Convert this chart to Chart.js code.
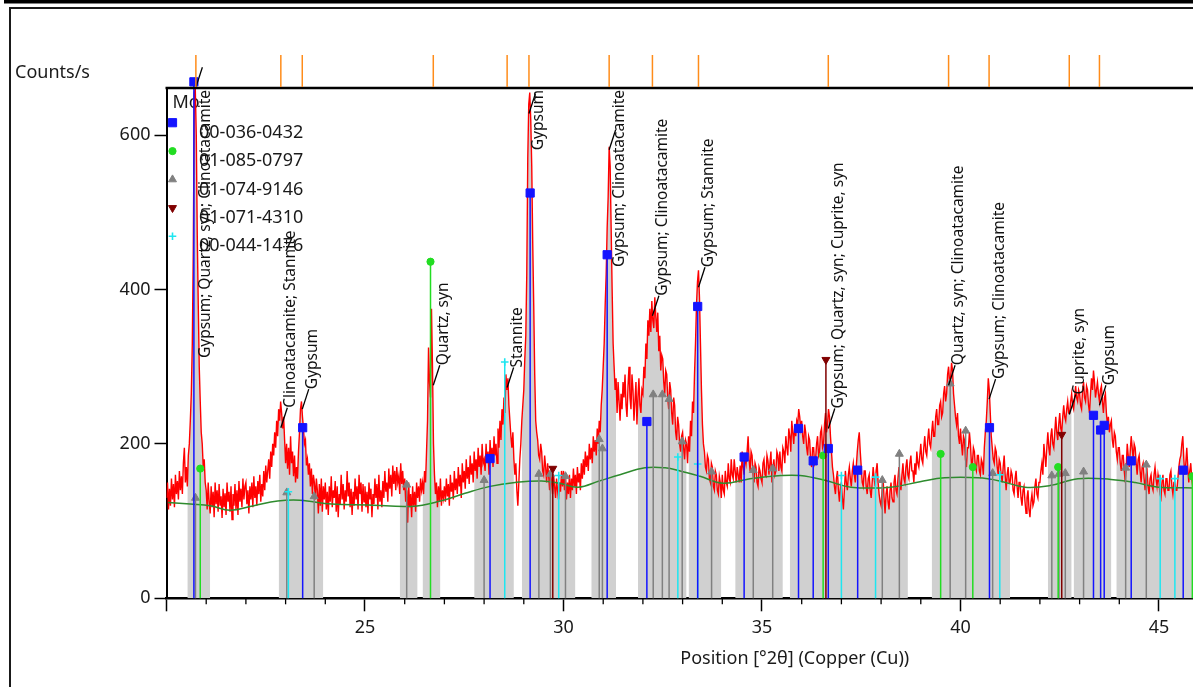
<!DOCTYPE html>
<html lang="en">
<head>
  <meta charset="UTF-8">
  <title>XRD pattern</title>
  <script src="https://cdn.jsdelivr.net/npm/chart.js"></script>
  <style>
    html, body { margin: 0; padding: 0; background: #fff; overflow: hidden; }
    #wrap { width: 1193px; height: 687px; overflow: hidden; }
    canvas { display: block; }
  </style>
</head>
<body>
  <div id="wrap"><canvas id="xrd" width="1440" height="687"></canvas></div>

  <script>
    // measured scan: start angle, step (deg 2theta) and counts/s, one row per degree
    const scanStart = 20.0;
    const scanStep = 0.025;
    const counts = [
      // 20
      130,150,115,142,120,155,128,148,118,160,135,152,128,165,140,158,135,175,195,150,
      170,145,185,200,230,265,330,450,655,660,600,470,380,300,255,215,200,170,180,150,
      // 21
      140,115,150,125,110,145,118,138,105,150,122,140,112,148,120,132,104,142,118,136,
      108,150,125,138,112,145,102,135,120,148,115,140,108,152,125,142,118,155,128,145,
      // 22
      150,122,140,110,145,128,150,118,158,130,145,120,152,135,160,125,148,132,165,140,
      172,150,165,180,155,190,170,200,185,215,195,230,210,245,230,255,240,220,235,205,
      // 23
      175,200,168,195,160,210,175,190,158,185,150,170,155,190,215,245,255,235,220,200,
      205,172,180,160,175,145,168,135,160,150,128,155,140,110,148,120,155,112,145,128,
      // 24
      150,115,138,108,145,125,158,118,140,130,152,112,145,105,135,122,160,128,148,115,
      140,125,165,132,150,118,142,108,138,120,155,128,145,115,160,135,150,112,148,125,
      // 25
      145,118,138,110,150,128,142,105,135,122,155,130,148,115,160,125,140,118,152,130,
      165,138,150,125,168,142,160,132,172,148,165,140,170,150,158,135,175,148,165,140,
      // 26
      155,125,140,98,150,118,135,105,145,120,138,112,150,130,145,125,155,140,150,135,
      165,150,190,230,325,280,260,375,300,200,160,135,150,118,145,125,155,120,140,130,
      // 27
      145,125,155,132,148,120,160,138,150,128,165,140,155,135,170,145,160,130,175,150,
      165,142,180,155,170,148,185,160,175,150,190,165,180,155,195,170,185,160,200,175,
      // 28
      180,165,200,175,190,160,205,180,195,170,210,185,200,175,220,195,230,205,245,225,
      260,240,290,270,285,250,230,210,195,215,180,160,175,140,120,150,180,200,230,250,
      // 29
      270,310,340,420,570,640,655,620,560,460,380,290,230,215,205,185,180,200,190,165,
      160,185,170,150,175,160,140,165,150,135,160,145,130,155,140,128,150,138,165,145,
      // 30
      165,140,158,128,150,135,160,130,155,140,168,145,160,135,170,150,162,140,175,155,
      180,160,190,170,185,165,200,180,195,175,210,190,205,185,220,200,230,215,250,270,
      // 31
      300,330,380,420,480,520,585,560,480,400,330,300,270,285,240,280,255,230,265,245,
      280,260,290,250,235,275,300,260,245,290,270,230,255,280,225,260,285,250,240,270,
      // 32
      265,300,285,330,310,360,340,375,345,385,360,350,390,365,345,370,320,340,295,315,
      310,280,265,295,290,260,245,280,270,240,225,260,250,215,205,235,225,200,190,210,
      // 33
      215,195,180,205,200,175,210,190,230,210,255,240,290,330,380,410,425,390,330,270,
      225,200,190,170,165,185,180,155,150,175,170,145,140,165,160,140,135,158,150,130,
      // 34
      160,140,135,165,150,145,175,155,150,180,160,155,180,165,150,170,160,150,172,150,
      190,170,160,185,175,190,210,180,165,190,185,160,150,175,170,150,145,170,165,155,
      // 35
      150,175,180,160,158,185,178,160,175,190,150,170,180,160,165,190,185,165,190,170,
      165,195,190,175,210,195,185,220,210,190,230,215,200,225,210,230,225,245,235,220,
      // 36
      230,210,200,225,215,195,185,210,205,180,170,195,195,175,180,200,210,185,190,215,
      220,195,200,225,240,215,225,245,235,210,190,170,160,145,135,155,165,140,125,145,
      // 37
      150,130,115,140,165,150,140,160,170,155,145,165,175,160,150,170,190,205,215,190,
      170,150,145,165,165,145,135,155,160,140,130,150,170,155,145,165,175,150,135,125,
      // 38
      120,140,155,130,110,135,145,125,115,140,150,130,125,150,160,140,135,155,170,150,
      140,160,175,155,150,170,180,160,155,175,185,165,165,150,175,160,190,175,170,185,
      // 39
      200,180,175,195,210,190,185,205,220,200,195,215,230,210,210,235,245,225,225,250,
      255,235,240,265,275,255,265,290,300,280,285,305,295,265,250,235,225,240,210,200,
      // 40
      220,200,185,210,205,180,170,195,195,215,200,175,175,195,190,170,165,185,185,165,
      160,180,175,160,195,215,230,255,285,270,240,210,195,180,175,195,190,170,160,180,
      // 41
      175,160,150,170,185,160,140,160,170,150,150,165,160,140,135,155,165,145,130,150,
      150,130,120,140,145,125,110,130,140,115,105,125,135,120,125,145,155,135,130,150,
      // 42
      150,165,175,160,200,185,170,195,215,195,185,210,220,200,195,215,235,215,205,225,
      240,220,215,235,250,235,230,245,255,240,240,255,265,250,245,260,275,260,255,270,
      // 43
      265,250,245,270,280,260,255,275,270,250,240,265,285,270,295,280,260,270,280,265,
      255,270,275,255,240,260,265,240,225,235,215,225,230,205,195,215,210,190,180,195,
      // 44
      195,175,165,185,185,165,150,170,200,185,170,190,210,195,180,200,195,175,160,180,
      185,165,150,170,175,155,140,160,165,145,135,155,160,145,140,160,170,155,145,160,
      // 45
      150,135,130,150,160,140,135,155,155,140,140,160,165,145,135,150,150,140,140,155,
      170,180,185,200,210,180,160,175,195,170,150,165,175,155,145
    ];

    // fitted background
    const bgPos = [20.04, 20.6, 21.1, 21.6, 22.2, 22.8, 23.36, 24.16, 25.1, 26.18, 26.9, 27.52, 28.15, 28.78,
                   29.45, 29.9, 30.37, 30.9, 31.42, 32.05, 32.56, 32.94, 33.44, 34.02, 34.7, 35.48, 35.96,
                   36.58, 37.24, 38.25, 38.98, 39.6, 40.44, 40.99, 41.62, 42.25, 42.96, 43.79, 44.4, 44.98, 45.86];
    const bgCounts = [124, 122, 120, 114, 120, 126, 127, 122, 121, 119, 126, 136, 145, 150,
                      152, 149, 144, 152, 160, 169, 169, 165, 158, 149, 155, 159, 159,
                      153, 144, 144, 151, 156, 156, 152, 144, 146, 155, 154, 150, 144, 143];

    // peak ranges shown shaded
    const bandStart = [20.51, 22.82, 25.86, 26.43, 27.75, 28.93, 30.69, 31.86, 33.14, 34.32, 35.68, 39.27, 42.20, 42.83, 43.92];
    const bandEnd   = [21.10, 23.95, 26.34, 26.91, 28.77, 30.31, 31.34, 33.11, 33.99, 35.53, 38.69, 41.25, 42.80, 43.80, 46.00];

    // reference patterns (stick positions and heights)
    const gypsumPos = [20.69, 23.43, 28.15, 29.16, 31.10, 32.10, 33.38, 34.55, 35.92, 36.29, 36.67, 37.41, 40.73, 43.35, 43.53, 43.62, 44.30, 45.61];
    const gypsumCounts = [669, 221, 181, 525, 445, 229, 378, 183, 220, 178, 194, 166, 221, 237, 218, 224, 178, 166];
    const quartzPos = [20.85, 26.65, 36.54, 39.50, 40.31, 42.46, 45.84];
    const quartzCounts = [168, 436, 185, 187, 170, 170, 158];
    const clinoPos = [20.73, 23.03, 23.72, 26.05, 28.00, 29.38, 29.67, 30.05, 30.90, 30.98, 32.26, 32.49, 32.66, 32.99,
                      33.73, 34.78, 35.27, 38.03, 38.46, 39.74, 40.13, 40.81, 42.30, 42.48, 42.64, 43.10, 44.16, 44.68];
    const clinoCounts = [130, 137, 132, 147, 153, 161, 161, 158, 206, 194, 264, 264, 258, 203,
                         164, 166, 168, 153, 187, 278, 217, 162, 159, 161, 162, 164, 169, 173];
    const cupritePos = [29.73, 36.61, 42.55];
    const cupriteCounts = [168, 309, 212];
    const stannitePos = [23.07, 28.52, 29.88, 32.88, 33.38, 37.00, 37.86, 40.99, 45.03, 45.40];
    const stanniteCounts = [138, 306, 159, 183, 174, 159, 157, 160, 155, 155];

    // identified peaks
    const peakNames = [
      'Gypsum; Quartz, syn; Clinoatacamite', 'Clinoatacamite; Stannite', 'Gypsum', 'Quartz, syn', 'Stannite',
      'Gypsum', 'Gypsum; Clinoatacamite', 'Gypsum; Clinoatacamite', 'Gypsum; Stannite',
      'Gypsum; Quartz, syn; Cuprite, syn', 'Quartz, syn; Clinoatacamite', 'Gypsum; Clinoatacamite',
      'Cuprite, syn', 'Gypsum'
    ];
    const peakPos = [20.74, 22.88, 23.42, 26.72, 28.58, 29.13, 31.15, 32.24, 33.40, 36.67, 39.70, 40.72, 42.74, 43.50];
    const peakCounts = [662, 221, 245, 276, 273, 628, 581, 366, 403, 220, 276, 258, 238, 250];

    const FONT = '"Noto Sans", "Open Sans", sans-serif';
    Chart.defaults.font.family = FONT;

    const twoTheta = counts.map((_, i) => +(scanStart + i * scanStep).toFixed(3));
    const inBand = t => bandStart.some((s, k) => t >= s && t <= bandEnd[k]);

    // legend entries: code, colour, marker
    const patterns = [
      { code: '00-036-0432', color: '#1414ff', style: 'rect', radius: 5.8, rot: 0 },
      { code: '01-085-0797', color: '#22dd22', style: 'circle', radius: 3.6, rot: 0 },
      { code: '01-074-9146', color: '#808080', style: 'triangle', radius: 4.6, rot: 0 },
      { code: '01-071-4310', color: '#800000', style: 'triangle', radius: 4.6, rot: 180 },
      { code: '00-044-1476', color: '#1ee6f0', style: 'cross', radius: 3.8, rot: 0 }
    ];

    function stickSet(p, pos, vals, order) {
      const data = [];
      pos.forEach((t, i) => data.push({ x: t, y: 0 }, { x: t, y: vals[i] }, { x: t, y: null }));
      return {
        label: p.code,
        data: data,
        borderColor: p.color,
        backgroundColor: p.color,
        borderWidth: 1.5,
        pointStyle: p.style,
        pointRotation: p.rot,
        pointRadius: c => (c.index % 3 === 1 ? p.radius : 0),
        pointBorderWidth: p.style === 'cross' ? 1.6 : 1,
        clip: false,
        order: order
      };
    }

    // frame, y title, legend, peak labels and reference ticks
    const framePlugin = {
      id: 'frame',
      beforeDraw(chart) {
        const { ctx, width, height } = chart;
        ctx.save();
        ctx.fillStyle = '#fff';
        ctx.fillRect(0, 0, width, height);
        ctx.fillStyle = '#000';
        ctx.fillRect(4, 0, width, 3.5);
        ctx.strokeStyle = '#1a1a1a';
        ctx.lineWidth = 2;
        ctx.beginPath();
        ctx.moveTo(10, height + 5);
        ctx.lineTo(10, 8);
        ctx.lineTo(width + 5, 8);
        ctx.stroke();
        ctx.fillStyle = '#1a1a1a';
        ctx.font = '18px ' + FONT;
        ctx.textBaseline = 'middle';
        ctx.fillText('Counts/s', 15, 73);
        ctx.restore();
      },
      beforeDatasetsDraw(chart) {
        // legend inside the plot, drawn under the data
        const { ctx, chartArea } = chart;
        const lx = chartArea.left + 6;
        ctx.save();
        ctx.fillStyle = '#1a1a1a';
        ctx.font = '18px ' + FONT;
        ctx.textBaseline = 'middle';
        ctx.fillText('Mo', lx, 103);
        patterns.forEach((p, i) => {
          const my = 122.7 + i * 28.4;
          ctx.fillStyle = p.color;
          ctx.strokeStyle = p.color;
          ctx.lineWidth = p.style === 'cross' ? 1.6 : 1;
          if (Chart.helpers && Chart.helpers.drawPoint) {
            Chart.helpers.drawPoint(ctx, { pointStyle: p.style, rotation: p.rot, radius: p.radius, borderWidth: ctx.lineWidth }, lx, my);
          } else {
            ctx.fillRect(lx - 4, my - 4, 8, 8);
          }
          ctx.fillStyle = '#1a1a1a';
          ctx.fillText(p.code, 199, my + 10);
        });
        ctx.restore();
      },
      afterDatasetsDraw(chart) {
        const { ctx, chartArea, scales: { x, y } } = chart;
        ctx.save();
        // peak labels with leader lines
        ctx.font = '15.5px ' + FONT;
        peakNames.forEach((name, i) => {
          const px = x.getPixelForValue(peakPos[i]);
          const py = y.getPixelForValue(peakCounts[i]);
          const ex = px + 6.5, ey = py - 20;
          ctx.strokeStyle = '#000';
          ctx.lineWidth = 1.3;
          ctx.beginPath();
          ctx.moveTo(px, py);
          ctx.lineTo(ex, ey);
          ctx.stroke();
          const w = ctx.measureText(name).width;
          let start = ey;
          if (start - w < chartArea.top + 2) start = chartArea.top + 2 + w;
          ctx.save();
          ctx.translate(ex + 3.5, start);
          ctx.rotate(-Math.PI / 2);
          ctx.fillStyle = '#111';
          ctx.textAlign = 'left';
          ctx.textBaseline = 'middle';
          ctx.fillText(name, 0, 0);
          ctx.restore();
        });
        // top border of the plot
        ctx.strokeStyle = '#000';
        ctx.lineWidth = 2.5;
        ctx.beginPath();
        ctx.moveTo(chartArea.left - 1, chartArea.top);
        ctx.lineTo(chartArea.right, chartArea.top);
        ctx.stroke();
        ctx.restore();
      },
      afterDraw(chart) {
        const { ctx, chartArea, scales: { x } } = chart;
        ctx.save();
        // reference peak ticks above the plot
        ctx.strokeStyle = '#ff8c1a';
        ctx.lineWidth = 1.5;
        peakPos.forEach(t => {
          const px = x.getPixelForValue(t);
          ctx.beginPath();
          ctx.moveTo(px, 55);
          ctx.lineTo(px, chartArea.top - 1);
          ctx.stroke();
        });
        // minor x ticks
        ctx.strokeStyle = '#000';
        ctx.lineWidth = 1.3;
        for (let t = Math.ceil(x.min); t <= x.max; t++) {
          if (t % 5 === 0) continue;
          const px = x.getPixelForValue(t);
          ctx.beginPath();
          ctx.moveTo(px, chartArea.bottom);
          ctx.lineTo(px, chartArea.bottom + 6);
          ctx.stroke();
        }
        ctx.restore();
      }
    };

    new Chart(document.getElementById('xrd'), {
      type: 'line',
      data: {
        datasets: [
          stickSet(patterns[3], cupritePos, cupriteCounts, 1),
          stickSet(patterns[0], gypsumPos, gypsumCounts, 2),
          stickSet(patterns[1], quartzPos, quartzCounts, 3),
          stickSet(patterns[4], stannitePos, stanniteCounts, 4),
          stickSet(patterns[2], clinoPos, clinoCounts, 5),
          {
            label: 'Background',
            data: bgPos.map((t, i) => ({ x: t, y: bgCounts[i] })),
            borderColor: '#2e8b2e',
            borderWidth: 1.5,
            pointRadius: 0,
            tension: 0.4,
            order: 6
          },
          {
            label: 'Observed',
            data: twoTheta.map((t, i) => ({ x: t, y: counts[i] })),
            borderColor: '#ff0000',
            borderWidth: 1.4,
            pointRadius: 0,
            order: 7
          },
          {
            label: 'Peak ranges',
            data: twoTheta.map((t, i) => ({ x: t, y: inBand(t) ? counts[i] : null })),
            borderColor: 'rgba(0,0,0,0)',
            borderWidth: 0,
            backgroundColor: '#d0d0d0',
            fill: 'origin',
            pointRadius: 0,
            order: 8
          }
        ]
      },
      options: {
        responsive: false,
        animation: false,
        events: [],
        layout: { padding: { top: 88, right: 17, left: 0, bottom: 0 } },
        plugins: {
          legend: { display: false },
          tooltip: { enabled: false }
        },
        scales: {
          x: {
            type: 'linear',
            min: 20,
            max: 51.65,
            afterFit: s => { s.height = 88.7; },
            border: { display: true, color: '#000', width: 2.5 },
            grid: { drawOnChartArea: false, tickLength: 13, tickColor: '#000', tickWidth: 1.5 },
            ticks: {
              stepSize: 5,
              includeBounds: false,
              autoSkip: false,
              maxRotation: 0,
              padding: 6,
              color: '#1a1a1a',
              font: { size: 18 },
              callback: v => (v > 20 && v % 5 === 0 ? v : '')
            },
            title: {
              display: true,
              text: 'Position [°2θ] (Copper (Cu))',
              color: '#1a1a1a',
              font: { size: 18 },
              padding: { top: 0, bottom: 17 }
            }
          },
          y: {
            min: 0,
            max: 661,
            afterFit: s => { s.width = 166.5; },
            border: { display: true, color: '#000', width: 2 },
            grid: { drawOnChartArea: false, tickLength: 12, tickColor: '#000', tickWidth: 1.5 },
            ticks: {
              stepSize: 200,
              includeBounds: false,
              padding: 4,
              color: '#1a1a1a',
              font: { size: 18 }
            }
          }
        }
      },
      plugins: [framePlugin]
    });
  </script>
</body>
</html>
